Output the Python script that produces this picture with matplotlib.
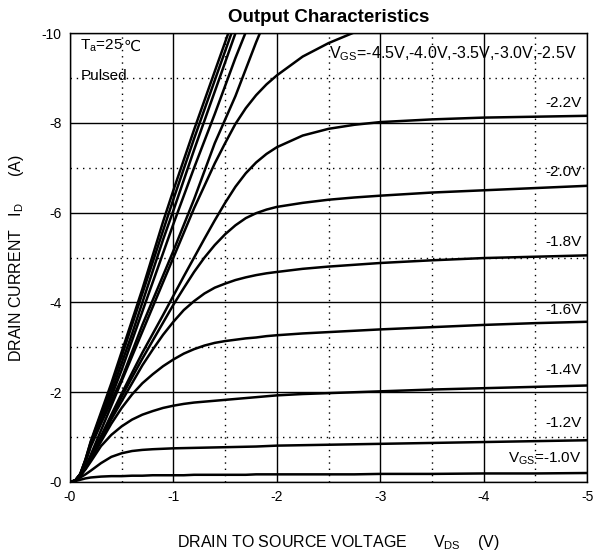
import matplotlib
matplotlib.use("Agg")
import matplotlib.pyplot as plt
from matplotlib.ticker import MultipleLocator

plt.rcParams['font.family'] = ['Liberation Sans', 'DejaVu Sans']
plt.rcParams['mathtext.fontset'] = 'custom'
plt.rcParams['mathtext.rm'] = 'Liberation Sans'

# drain-source voltage (V) and drain current (A)
v_low = [0, -0.05, -0.1, -0.15, -0.2, -0.3, -0.4, -0.5, -0.6, -0.7, -0.8, -0.9, -1.0,
         -1.1, -1.2, -1.3, -1.4, -1.5, -1.6, -1.7, -1.8, -1.9, -2.0,
         -2.25, -2.5, -2.75, -3.0, -3.5, -4.0, -4.5, -5.0]
i_10 = [0, -0.02, -0.05, -0.08, -0.1, -0.12, -0.13, -0.13, -0.14, -0.14, -0.15, -0.15, -0.15,
        -0.15, -0.16, -0.16, -0.16, -0.16, -0.16, -0.16, -0.17, -0.17, -0.17,
        -0.17, -0.17, -0.17, -0.18, -0.18, -0.19, -0.19, -0.2]
i_12 = [0, -0.03, -0.1, -0.17, -0.25, -0.42, -0.56, -0.64, -0.69, -0.715, -0.73, -0.74, -0.75,
        -0.755, -0.76, -0.765, -0.77, -0.775, -0.78, -0.785, -0.79, -0.8, -0.81,
        -0.82, -0.83, -0.84, -0.85, -0.87, -0.89, -0.91, -0.93]
i_14 = [0, -0.03, -0.14, -0.28, -0.45, -0.8, -1.05, -1.24, -1.39, -1.5, -1.58, -1.65, -1.7,
        -1.74, -1.77, -1.79, -1.81, -1.83, -1.85, -1.87, -1.89, -1.91, -1.93,
        -1.96, -1.98, -2.0, -2.02, -2.06, -2.09, -2.12, -2.15]
i_16 = [0, -0.03, -0.15, -0.3, -0.5, -0.9, -1.3, -1.65, -1.95, -2.2, -2.4, -2.58, -2.73,
        -2.86, -2.96, -3.04, -3.1, -3.14, -3.17, -3.2, -3.22, -3.25, -3.27,
        -3.31, -3.34, -3.37, -3.4, -3.45, -3.5, -3.54, -3.57]
i_18 = [0, -0.03, -0.15, -0.3, -0.52, -0.95, -1.4, -1.8, -2.2, -2.6, -2.95, -3.28, -3.57,
        -3.83, -4.03, -4.2, -4.33, -4.42, -4.5, -4.56, -4.61, -4.65, -4.68,
        -4.75, -4.8, -4.84, -4.88, -4.94, -4.99, -5.02, -5.05]
i_20 = [0, -0.03, -0.15, -0.3, -0.53, -1.0, -1.45, -1.9, -2.33, -2.75, -3.15, -3.55, -3.95,
        -4.32, -4.68, -5.0, -5.28, -5.52, -5.72, -5.88, -5.99, -6.07, -6.13,
        -6.22, -6.29, -6.34, -6.38, -6.45, -6.5, -6.55, -6.6]
i_22 = [0, -0.03, -0.15, -0.31, -0.55, -1.02, -1.5, -1.97, -2.43, -2.88, -3.3, -3.72, -4.15,
        -4.58, -5.0, -5.42, -5.83, -6.22, -6.58, -6.88, -7.12, -7.31, -7.46,
        -7.72, -7.87, -7.96, -8.02, -8.08, -8.12, -8.14, -8.16]

v_top = [0, -0.05, -0.1, -0.15, -0.2, -0.3, -0.4, -0.5, -0.6, -0.7, -0.8, -0.9, -1.0,
         -1.1, -1.2, -1.3, -1.4, -1.5, -1.6, -1.7, -1.8, -1.9, -2.0,
         -2.25, -2.5, -2.75, -3.0]
i_top = [0, -0.03, -0.16, -0.33, -0.6, -1.15, -1.7, -2.25, -2.8, -3.35, -3.9, -4.45, -5.0,
         -5.55, -6.1, -6.6, -7.1, -7.55, -7.98, -8.33, -8.62, -8.86, -9.06,
         -9.48, -9.78, -10.02, -10.2]

v_high = [0, -0.05, -0.1, -0.15, -0.2, -0.3, -0.4, -0.5, -0.6, -0.7, -0.8, -0.9, -1.0,
          -1.2, -1.4, -1.6, -1.8, -2.0]
i_45 = [0, -0.03, -0.18, -0.5, -0.9, -1.55, -2.2, -2.9, -3.6, -4.3, -5.05, -5.8, -6.5,
        -7.85, -9.15, -10.45, -11.7, -13.0]
i_40 = [0, -0.03, -0.18, -0.5, -0.88, -1.5, -2.12, -2.8, -3.5, -4.2, -4.9, -5.6, -6.3,
        -7.65, -8.95, -10.25, -11.5, -12.8]
i_35 = [0, -0.03, -0.18, -0.48, -0.85, -1.45, -2.0, -2.65, -3.3, -4.0, -4.7, -5.4, -6.05,
        -7.4, -8.7, -10.0, -11.25, -12.5]
i_30 = [0, -0.03, -0.17, -0.46, -0.82, -1.38, -1.9, -2.5, -3.15, -3.8, -4.45, -5.1, -5.75,
        -7.0, -8.2, -9.45, -10.6, -11.8]
i_25 = [0, -0.03, -0.17, -0.44, -0.78, -1.3, -1.8, -2.3, -2.9, -3.5, -4.05, -4.6, -5.15,
        -6.3, -7.55, -8.6, -9.8, -10.9]

label_text = ['-2.2V', '-2.0V', '-1.8V', '-1.6V', '-1.4V', '-1.2V']
label_y = [-8.45, -6.9, -5.34, -3.83, -2.49, -1.31]

fig = plt.figure(figsize=(5.93, 5.54), dpi=100)
ax = fig.add_axes([0.118, 0.130, 0.872, 0.810])

for cur in [i_10, i_12, i_14, i_16, i_18, i_20, i_22]:
    ax.plot(v_low, cur, color='black', lw=1.8, solid_joinstyle='round')
ax.plot(v_top, i_top, color='black', lw=1.8, solid_joinstyle='round')
for cur in [i_45, i_40, i_35, i_30, i_25]:
    ax.plot(v_high, cur, color='black', lw=1.8, solid_joinstyle='round')

ax.set_xlim(0, -5)
ax.set_ylim(0, -10)
ax.xaxis.set_minor_locator(MultipleLocator(0.5))
ax.yaxis.set_minor_locator(MultipleLocator(1))
ax.set_xticks([0, -1, -2, -3, -4, -5])
ax.set_xticklabels(['-0', '-1', '-2', '-3', '-4', '-5'])
ax.set_yticks([0, -2, -4, -6, -8, -10])
ax.set_yticklabels(['-0', '-2', '-4', '-6', '-8', '-10'])
ax.tick_params(which='both', length=0, labelsize=10, pad=6)
ax.grid(which='major', color='black', lw=1.0)
ax.grid(which='minor', color='black', lw=1.0, linestyle=(0, (1, 3.5)))
for s in ax.spines.values():
    s.set_linewidth(1.0)

ax.set_title('Output Characteristics', fontsize=13.5, fontweight='bold', pad=8)
ax.set_xlabel(r'DRAIN TO SOURCE VOLTAGE      V$_{\mathregular{DS}}$    (V)', fontsize=11.5, labelpad=21)
ax.xaxis.label.set_x(0.52)
ax.set_ylabel(r'DRAIN CURRENT   I$_{\mathregular{D}}$      (A)', fontsize=11.5, labelpad=11)

ta = ax.text(-0.1, -9.72, r'T$_{\mathregular{a}}$=25', fontsize=11, va='center', ha='left')
ax.annotate('℃', xy=(1, 0), xycoords=ta, va='bottom', ha='left', fontsize=11,
            family='DejaVu Sans')
ax.text(-0.1, -9.05, 'Pulsed', fontsize=11, va='center', ha='left')
ax.text(-2.5, -9.55, r'V$_{\mathregular{GS}}$=-4.5V,-4.0V,-3.5V,-3.0V,-2.5V', fontsize=11.5,
        va='center', ha='left')
for t, y in zip(label_text, label_y):
    ax.text(-4.95, y, t, fontsize=11, va='center', ha='right')
ax.text(-4.95, -0.53, r'V$_{\mathregular{GS}}$=-1.0V', fontsize=11, va='center', ha='right')

fig.savefig('out.png', dpi=100)
